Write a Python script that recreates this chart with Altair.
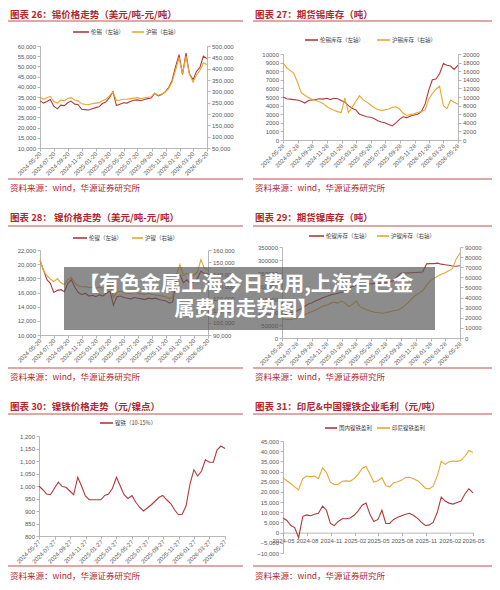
import altair as alt
import pandas as pd

# ---------------- data ----------------
tin_lme = [33200, 32000, 32800, 33800, 30500, 29200, 31000, 30800, 32200, 33000,
           31500, 31200, 29000, 28800, 28600, 29200, 29800, 30200, 31800, 32500,
           34800, 37600, 30800, 31500, 32200, 32000, 32800, 33400, 33600, 33200,
           33800, 34200, 34500, 36800, 35500, 36200, 37500, 39500, 43000, 50000,
           55800, 46000, 56500, 46500, 43500, 47500, 49500, 55000, 53800]
tin_shfe = [275000, 265000, 272000, 278000, 255000, 248000, 262000, 258000, 268000, 272000,
            262000, 258000, 245000, 243000, 242000, 245000, 248000, 250000, 258000, 265000,
            280000, 298000, 260000, 262000, 265000, 265000, 268000, 270000, 272000, 268000,
            272000, 274000, 276000, 292000, 283000, 288000, 296000, 312000, 340000, 395000,
            450000, 375000, 455000, 378000, 340000, 372000, 392000, 425000, 418000]
tin_lme_stock = [5000, 4800, 4750, 4700, 4650, 4500, 4300, 4600, 4650, 4700,
                 4800, 4750, 4850, 4700, 4850, 4800, 4600, 4400, 4000, 3700,
                 3500, 3000, 2850, 2700, 2650, 2500, 2250, 2100, 2000, 1800,
                 1650, 2000, 2400, 2700, 2600, 2800, 2900, 3000, 3300, 4200,
                 5800, 7000, 7100, 7700, 8900, 8700, 8600, 8200, 8700]
tin_shfe_stock = [18000, 16800, 16200, 15500, 13500, 11000, 10400, 9900, 9400, 9200,
                  8900, 8500, 7800, 7300, 6900, 6600, 6400, 9800, 6400, 7600,
                  9000, 10300, 9400, 8800, 8200, 7500, 7100, 6900, 7000, 7200,
                  7600, 7700, 7200, 6200, 5700, 5900, 6100, 6400, 6600, 7000,
                  9500, 10800, 11800, 12500, 8000, 7300, 9300, 8800, 8300]
ni_lme = [20500, 19200, 17800, 17300, 16000, 16300, 16400, 16100, 17300, 17800,
          16700, 16000, 15700, 15900, 15500, 15600, 15400, 15700, 15500, 15900,
          16200, 14200, 15400, 15500, 15300, 15200, 15100, 15300, 15200, 15100,
          15000, 15200, 15100, 15200, 15000, 14900, 14800, 14500, 14700, 17800,
          18500, 17400, 17800, 17300, 17500, 18000, 19000, 18700, 18600]
ni_shfe = [152000, 143000, 139000, 136000, 134000, 136500, 133000, 131500, 135500, 137500,
           132500, 130500, 129500, 130000, 129000, 129500, 128500, 129500, 128500, 129000,
           130500, 121000, 125500, 126000, 125000, 124500, 124000, 125000, 124500, 124000,
           123500, 124500, 123500, 123000, 122500, 122000, 121500, 120000, 121000, 140000,
           148000, 139000, 141000, 139000, 139500, 142000, 152000, 145000, 143500]
ni_lme_stock = [85000, 90000, 95000, 100000, 104000, 112000, 120000, 130000, 135000, 142000,
                148000, 155000, 160000, 165000, 168000, 172000, 175000, 178000, 190000, 198000,
                202000, 205000, 206000, 208000, 208000, 210000, 210000, 212000, 214000, 216000,
                220000, 235000, 248000, 250000, 250000, 251000, 252000, 253000, 254000, 285000,
                286000, 286000, 288000, 284000, 282000, 280000, 277000, 276000, 278000]
ni_shfe_stock = [19000, 18500, 18000, 18800, 19500, 21500, 23000, 24500, 26000, 27500,
                 29500, 31500, 32500, 34000, 35500, 34500, 36500, 35000, 31000, 33000,
                 36500, 31500, 29500, 28000, 26500, 25500, 25000, 24500, 25000, 26000,
                 27000, 27500, 29000, 31500, 35000, 39000, 42000, 44500, 47000, 52000,
                 56500, 59000, 61000, 63000, 64500, 66500, 68500, 78000, 84000]
npi_price = [1000, 985, 968, 965, 990, 1015, 998, 995, 980, 965,
             1035, 1000, 960, 945, 945, 945, 945, 962, 968, 990,
             1035, 1000, 965, 950, 962, 935, 915, 900, 912, 925,
             940, 955, 962, 945, 930, 905, 885, 887, 920, 1010,
             1065, 1040, 1060, 1105, 1095, 1095, 1145, 1160, 1150]
profit_cn = [7200, 6000, 3500, 2500, -2500, 8000, 8700, 8300, 9000, 9500,
             13000, 11000, 4500, 3500, 5500, 6800, 6800, 7200, 8500, 10500,
             13500, 14500, 9000, 5500, 6500, 11000, 4500, 4500, 6500, 7500,
             8300, 9000, 9500, 8500, 7000, 5000, 3500, 3800, 5000, 10000,
             17500, 15500, 14500, 14000, 14800, 15500, 19000, 21500, 19500]
profit_id = [27000, 25500, 24000, 22500, 21000, 26500, 27800, 27500, 27800, 26500,
             31800, 29500, 24800, 23500, 23800, 25200, 25400, 25200, 26500, 28500,
             31500, 32500, 28800, 24800, 25500, 27000, 23000, 22500, 24500, 25000,
             25800, 27000, 27200, 26500, 25500, 23800, 21800, 21500, 22800, 28000,
             35000, 33500, 34800, 35200, 35000, 35500, 37500, 40300, 39300]

# tick labels
months_odd = ["2024-05", "2024-07", "2024-09", "2024-11", "2025-01", "2025-03", "2025-05",
              "2025-07", "2025-09", "2025-11", "2026-01", "2026-03", "2026-05"]
ticks_20 = [m + "-20" for m in months_odd]
ticks_28 = [m + "-28" for m in months_odd]
ticks_27 = [m + "-27" for m in months_odd]
ticks_q = ["2024-05-01", "2024-08-01", "2024-11-01", "2025-02-01", "2025-05-01",
           "2025-08-01", "2025-11-01", "2026-02-01", "2026-05-01"]
y_tin_l = [10000, 15000, 20000, 25000, 30000, 35000, 40000, 45000, 50000, 55000, 60000]
y_tin_r = [50000, 100000, 150000, 200000, 250000, 300000, 350000, 400000, 450000, 500000]
y_tins_l = [0, 1000, 2000, 3000, 4000, 5000, 6000, 7000, 8000, 9000, 10000]
y_tins_r = [0, 2000, 4000, 6000, 8000, 10000, 12000, 14000, 16000, 18000, 20000]
y_ni_l = [10000, 12000, 14000, 16000, 18000, 20000, 22000]
y_ni_r = [90000, 100000, 110000, 120000, 130000, 140000, 150000, 160000]
y_nis_l = [0, 50000, 100000, 150000, 200000, 250000, 300000, 350000]
y_nis_r = [0, 10000, 20000, 30000, 40000, 50000, 60000, 70000, 80000, 90000]
y_npi = [800, 850, 900, 950, 1000, 1050, 1100, 1150, 1200]
y_prof = [-10000, -5000, 0, 5000, 10000, 15000, 20000, 25000, 30000, 35000, 40000, 45000]

# ---------------- layout helpers ----------------
W, H = 484, 574
OX, OY = 8, 4


def px(x):
    return x - OX


def py(y):
    return y - OY


RED = "#B03A3A"
YEL = "#E8A630"
TRED = "#B3262C"
RRED = "#C0504D"
GAX = "#A6A6A6"
LBL = "#595959"
CJK = "Noto Sans CJK SC"
LAT = "Liberation Sans"
COMMA = ",.0f"


def dt(s):
    y, m, d = map(int, s.split("-"))
    return alt.DateTime(year=y, month=m, date=d, utc=True)


def frame(start, end, values):
    d = pd.date_range(start, end, periods=len(values)).strftime("%Y-%m-%d")
    return pd.DataFrame({"date": list(d), "value": values})


common = dict(title=None, grid=False, labelFont=LAT, labelFontSize=6, labelColor=LBL,
              domainColor=GAX, tickColor=GAX, domainWidth=0.8, tickWidth=0.8, tickSize=3,
              labelOverlap=False, labelFlush=False, labelPadding=1.5)


def yax(orient, at_x, values, fmt):
    x = px(at_x)
    off = -x if orient == "left" else -(W - x)
    return alt.Axis(orient=orient, offset=off, values=values, format=fmt, **common)


def xax(at_y, values, fmt="%Y-%m-%d", angle=-45):
    y = py(at_y)
    if angle == 0:
        extra = dict(labelAlign="center", labelBaseline="top")
    else:
        extra = dict(labelAlign="right", labelBaseline="middle")
    return alt.Axis(orient="bottom", offset=-(H - y), values=[dt(v) for v in values],
                    format=fmt, labelAngle=angle, **extra, **common)


def line(df, color, xdom, xr, ydom, yr, xaxis=None, yaxis=None):
    return alt.Chart(df).mark_line(color=color, strokeWidth=1.1).encode(
        x=alt.X("date:T", scale=alt.Scale(type="utc", domain=[dt(xdom[0]), dt(xdom[1])],
                                          range=[px(xr[0]), px(xr[1])]), axis=xaxis),
        y=alt.Y("value:Q", scale=alt.Scale(domain=ydom, range=[py(yr[0]), py(yr[1])],
                                           nice=False, zero=False), axis=yaxis),
    )


one = pd.DataFrame({"k": [0]})


def txt(s, x, y, size, color, weight="normal", font=CJK, align="left"):
    return alt.Chart(one).mark_text(text=s, fontSize=size, color=color, fontWeight=weight,
                                    font=font, align=align, baseline="middle").encode(
        x=alt.value(px(x)), y=alt.value(py(y)))


def hrule(x1, x2, y, color, width):
    return alt.Chart(one).mark_rule(color=color, strokeWidth=width).encode(
        x=alt.value(px(x1)), x2=alt.value(px(x2)), y=alt.value(py(y)))


def frame_deco(title, x0, x1, ty, ry, by, sy):
    return [
        txt(title, x0 + 2, ty, 9.5, TRED, weight="bold"),
        hrule(x0, x1, ry, RRED, 1.1),
        hrule(x0, x1, by, RRED, 1.1),
        txt("资料来源：wind，华源证券研究所", x0 + 2, sy, 8.5, TRED),
    ]


def legend(items, y):
    out = []
    for (x1, x2, tx, label, color) in items:
        out.append(hrule(x1, x2, y, color, 1.6))
        out.append(txt(label, tx, y, 5.5, "#404040"))
    return out


layers = []

# ---- Panel 1: tin price ----
d1 = ("2024-05-20", "2026-05-20")
xr1, yr1 = (40, 207), (144, 42)
layers += frame_deco("图表 26：锡价格走势（美元/吨-元/吨）", 8, 243, 11, 17, 175, 184)
layers += legend([(73, 89, 91, "伦锡（左轴）", RED), (132, 144, 146, "沪锡（右轴）", YEL)], 28)
layers.append(line(frame(*d1, tin_lme), RED, d1, xr1, [10000, 60000], yr1,
                   xaxis=xax(144, ticks_20), yaxis=yax("left", 40, y_tin_l, COMMA)))
layers.append(line(frame(*d1, tin_shfe), YEL, d1, xr1, [50000, 500000], yr1,
                   yaxis=yax("right", 207, y_tin_r, COMMA)))

# ---- Panel 2: tin inventory ----
d2 = ("2024-05-28", "2026-05-28")
xr2, yr2 = (283, 458), (136, 50)
layers += frame_deco("图表 27：期货锡库存（吨）", 253, 495, 11, 17, 175, 184)
layers += legend([(305, 318, 320, "伦锡库存（左轴）", RED), (377, 390, 392, "沪锡库存（右轴）", YEL)], 36)
layers.append(line(frame(*d2, tin_lme_stock), RED, d2, xr2, [0, 10000], yr2,
                   xaxis=xax(136, ticks_28), yaxis=yax("left", 283, y_tins_l, "d")))
layers.append(line(frame(*d2, tin_shfe_stock), YEL, d2, xr2, [0, 20000], yr2,
                   yaxis=yax("right", 458, y_tins_r, "d")))

# ---- Panel 3: nickel price ----
d3 = ("2024-05-20", "2026-05-20")
xr3, yr3 = (40, 208), (331, 246)
layers += frame_deco("图表 28：  镍价格走势（美元/吨-元/吨）", 8, 243, 214, 222, 364, 373)
layers += legend([(73, 87, 89, "伦镍（左轴）", RED), (132, 143, 145, "沪镍（右轴）", YEL)], 234)
layers.append(line(frame(*d3, ni_lme), RED, d3, xr3, [10000, 22000], yr3,
                   xaxis=xax(331, ticks_20), yaxis=yax("left", 40, y_ni_l, COMMA)))
layers.append(line(frame(*d3, ni_shfe), YEL, d3, xr3, [90000, 160000], yr3,
                   yaxis=yax("right", 208, y_ni_r, COMMA)))

# ---- Panel 4: nickel inventory ----
d4 = ("2024-05-28", "2026-05-28")
xr4, yr4 = (282, 460), (334, 243)
layers += frame_deco("图表 29：期货镍库存（吨）", 253, 495, 214, 222, 364, 373)
layers += legend([(309, 324, 326, "伦镍库存（左轴）", RED), (377, 389, 391, "沪镍库存（右轴）", YEL)], 232)
layers.append(line(frame(*d4, ni_lme_stock), RED, d4, xr4, [0, 350000], yr4,
                   xaxis=xax(334, ticks_28), yaxis=yax("left", 282, y_nis_l, "d")))
layers.append(line(frame(*d4, ni_shfe_stock), YEL, d4, xr4, [0, 90000], yr4,
                   yaxis=yax("right", 460, y_nis_r, "d")))

# ---- Panel 5: NPI price ----
d5 = ("2024-05-27", "2026-05-27")
xr5, yr5 = (39, 225), (532, 432)
layers += frame_deco("图表 30：镍铁价格走势（元/镍点）", 8, 243, 403, 410, 562, 572)
layers += legend([(100, 113, 115, "镍铁（10-15%）", RED)], 419)
layers.append(line(frame(*d5, npi_price), RED, d5, xr5, [800, 1200], yr5,
                   xaxis=xax(532, ticks_27), yaxis=yax("left", 39, y_npi, COMMA)))

# ---- Panel 6: NPI margins ----
d6 = ("2024-05-01", "2026-05-01")
xr6, yr6 = (283, 473), (549, 437)
zero_y = 549 - (0 - (-10000)) / 55000 * (549 - 437)
layers += frame_deco("图表 31：印尼&中国镍铁企业毛利（元/吨）", 253, 495, 403, 410, 562, 572)
layers += legend([(325, 337, 339, "国内镍铁盈利", RED), (377, 390, 392, "印尼镍铁盈利", YEL)], 424)
layers.append(line(frame(*d6, profit_id), YEL, d6, xr6, [-10000, 45000], yr6))
layers.append(line(frame(*d6, profit_cn), RED, d6, xr6, [-10000, 45000], yr6,
                   xaxis=xax(zero_y, ticks_q, fmt="%Y-%m", angle=0),
                   yaxis=yax("left", 283, y_prof, COMMA)))

# ---- overlay banner ----
layers.append(alt.Chart(one).mark_rect(color="#555555", opacity=0.68).encode(
    x=alt.value(px(64)), x2=alt.value(px(435)), y=alt.value(py(263)), y2=alt.value(py(326))))
layers.append(txt("【有色金属上海今日费用,上海有色金", 246, 281, 20.5, "white", weight="bold", align="center"))
layers.append(txt("属费用走势图】", 246, 306, 20.5, "white", weight="bold", align="center"))

chart = alt.layer(*layers).resolve_scale(x="independent", y="independent").properties(
    width=W, height=H, autosize=alt.AutoSizeParams(type="none"), padding=0
).configure_view(stroke=None)

chart.save("out.html", embed_options={"renderer": "svg", "actions": False})
